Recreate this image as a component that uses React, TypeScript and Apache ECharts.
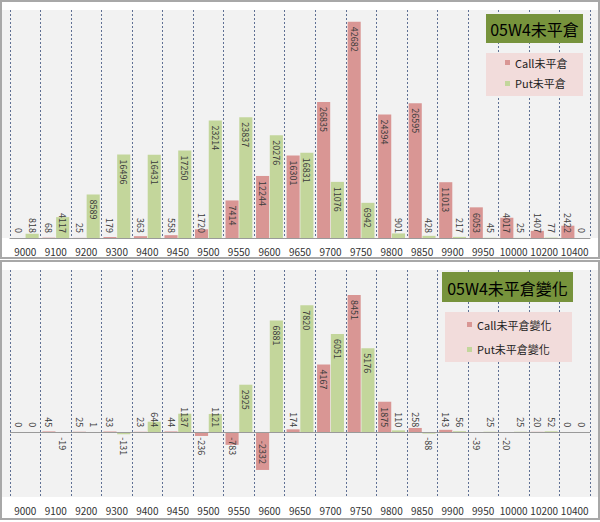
import React, { useEffect, useRef } from "react";
import * as echarts from "echarts";

const categories = ["9000", "9100", "9200", "9300", "9400", "9450", "9500", "9550", "9600", "9650", "9700", "9750", "9800", "9850", "9900", "9950", "10000", "10200", "10400"];
const callOI = [0, 68, 25, 179, 363, 558, 1720, 7414, 12244, 16301, 26835, 42682, 24394, 26595, 11013, 6053, 4017, 1407, 2422];
const putOI = [818, 4117, 8589, 16496, 16431, 17250, 23214, 23837, 20276, 16831, 11076, 6942, 901, 428, 217, 45, 25, 77, 0];
const callChg = [0, 45, 25, 33, 23, 44, -236, -783, -2332, 174, 4167, 8451, 1875, 258, 143, -39, -20, 20, 0];
const putChg = [0, -19, 1, -131, 644, 1137, 1121, 2925, 6881, 7820, 6051, 5176, 110, -88, 56, 25, 25, 52, 0];

const topTitle = "05W4未平倉";
const bottomTitle = "05W4未平倉變化";
const topNames = ["Call未平倉", "Put未平倉"];
const bottomNames = ["Call未平倉變化", "Put未平倉變化"];

const topRange = [0, 45000];
const bottomRange = [-4000, 10000];

const CALL = "#D99694";
const PUT = "#C3D69B";
const FONT = '"Noto Sans CJK TC", "Noto Sans", sans-serif';

const TOP_GRID = { top: 10, height: 228 };
const BOT_GRID = { top: 270, height: 227 };

function labelFor(v: number, pxPerUnit: number) {
  const len = Math.abs(v) * pxPerUnit;
  const need = String(v).length * 5 + 12;
  const fits = len >= need;
  const base = { show: true, rotate: -90, verticalAlign: "middle", fontSize: 9, color: "#3A3A3A", fontFamily: FONT };
  if (v >= 0) {
    return fits
      ? { ...base, position: "insideTop", align: "left", distance: 5 }
      : { ...base, position: "insideBottom", align: "right", distance: 5 };
  }
  return fits
    ? { ...base, position: "insideBottom", align: "right", distance: 6 }
    : { ...base, position: "insideTop", align: "left", distance: 5 };
}

function build(values: number[], range: number[], h: number) {
  const ppu = h / (range[1] - range[0]);
  return values.map((v) => ({ value: v, label: labelFor(v, ppu) }));
}

export default function App() {
  const ref = useRef<HTMLDivElement>(null);
  useEffect(() => {
    document.body.style.margin = "0";
    const chart = echarts.init(ref.current!, null, { renderer: "svg" });
    const xCommon = {
      type: "category",
      data: categories,
      axisTick: { show: false },
      axisLabel: { interval: 0, fontSize: 10, color: "#333", margin: 8, fontFamily: FONT },
      splitLine: { show: true, interval: 0, lineStyle: { color: "#5F7094", type: [2, 2], width: 1 } },
    };
    const barCommon = { type: "bar", barGap: "5%", barCategoryGap: "12%" };
    const option: any = {
      animation: false,
      backgroundColor: "#ffffff",
      grid: [
        { left: 10, right: 10, top: TOP_GRID.top, height: TOP_GRID.height },
        { left: 10, right: 10, top: BOT_GRID.top, height: BOT_GRID.height },
      ],
      xAxis: [
        { ...xCommon, gridIndex: 0, axisLine: { show: true, lineStyle: { color: "#9A9A9A", width: 1 } } },
        { ...xCommon, gridIndex: 1, axisLine: { show: false, onZero: false } },
      ],
      yAxis: [
        { type: "value", gridIndex: 0, min: topRange[0], max: topRange[1], show: false },
        { type: "value", gridIndex: 1, min: bottomRange[0], max: bottomRange[1], show: false },
      ],
      legend: [
        {
          data: topNames, orient: "vertical", left: 505, top: 57, itemGap: 10, padding: 0,
          itemWidth: 5, itemHeight: 5, icon: "rect", selectedMode: false, z: 6,
          textStyle: { fontSize: 11, color: "#222", fontFamily: FONT },
        },
        {
          data: bottomNames, orient: "vertical", left: 467, top: 319, itemGap: 14, padding: 0,
          itemWidth: 5, itemHeight: 5, icon: "rect", selectedMode: false, z: 6,
          textStyle: { fontSize: 11, color: "#222", fontFamily: FONT },
        },
      ],
      graphic: [
        { type: "rect", z: -10, shape: { x: 2, y: TOP_GRID.top, width: 596, height: TOP_GRID.height }, style: { fill: "#F2F2F2" } },
        { type: "rect", z: -10, shape: { x: 2, y: BOT_GRID.top, width: 596, height: BOT_GRID.height }, style: { fill: "#F2F2F2" } },
        { type: "rect", z: -9, shape: { x: 1, y: 1, width: 598, height: 257 }, style: { fill: "none", stroke: "#A8A8A8", lineWidth: 2 } },
        { type: "rect", z: -9, shape: { x: 1, y: 261, width: 598, height: 258 }, style: { fill: "none", stroke: "#A8A8A8", lineWidth: 2 } },
        { type: "rect", z: 5, shape: { x: 486, y: 14, width: 97, height: 29 }, style: { fill: "#77933C" } },
        { type: "text", z: 6, x: 534.5, y: 29, style: { text: topTitle, font: `16px ${FONT}`, fill: "#000", align: "center", verticalAlign: "middle", textAlign: "center", textVerticalAlign: "middle" } },
        { type: "rect", z: 5, shape: { x: 486, y: 53, width: 97, height: 43 }, style: { fill: "#F2DCDB" } },
        { type: "rect", z: 5, shape: { x: 442, y: 272, width: 131, height: 30 }, style: { fill: "#77933C" } },
        { type: "text", z: 6, x: 507.5, y: 287.5, style: { text: bottomTitle, font: `16px ${FONT}`, fill: "#000", align: "center", verticalAlign: "middle", textAlign: "center", textVerticalAlign: "middle" } },
        { type: "rect", z: 5, shape: { x: 445, y: 312, width: 127, height: 50 }, style: { fill: "#F2DCDB" } },
      ],
      series: [
        { ...barCommon, name: topNames[0], xAxisIndex: 0, yAxisIndex: 0, itemStyle: { color: CALL }, data: build(callOI, topRange, TOP_GRID.height) },
        { ...barCommon, name: topNames[1], xAxisIndex: 0, yAxisIndex: 0, itemStyle: { color: PUT }, data: build(putOI, topRange, TOP_GRID.height) },
        {
          ...barCommon, name: bottomNames[0], xAxisIndex: 1, yAxisIndex: 1, itemStyle: { color: CALL },
          data: build(callChg, bottomRange, BOT_GRID.height),
          markLine: {
            silent: true, symbol: "none", label: { show: false },
            lineStyle: { color: "#9A9A9A", type: "solid", width: 1 },
            data: [{ yAxis: 0 }],
          },
        },
        { ...barCommon, name: bottomNames[1], xAxisIndex: 1, yAxisIndex: 1, itemStyle: { color: PUT }, data: build(putChg, bottomRange, BOT_GRID.height) },
      ],
    };
    chart.setOption(option);
    return () => chart.dispose();
  }, []);
  return <div ref={ref} style={{ width: 600, height: 522 }} />;
}
